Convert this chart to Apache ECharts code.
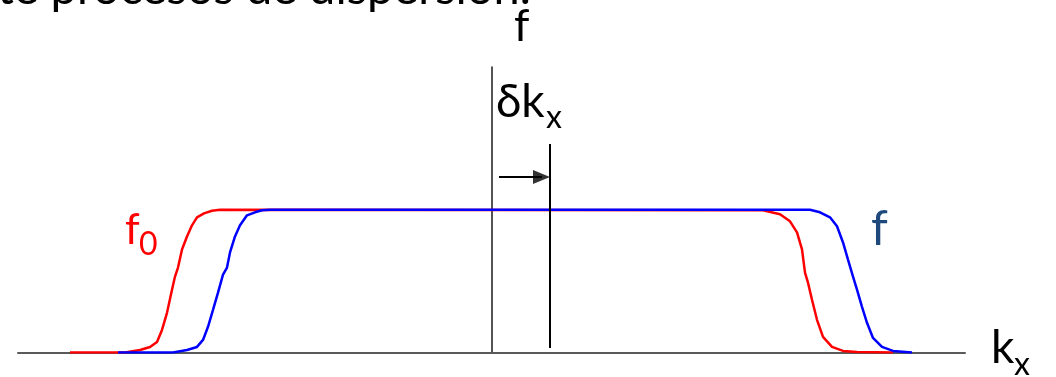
<!DOCTYPE html>
<html>
<head>
<meta charset="utf-8">
<script src="https://cdn.jsdelivr.net/npm/echarts@6/dist/echarts.min.js"></script>
<style>
html,body{margin:0;padding:0;background:#fff;}
#chart{width:1056px;height:377px;}
</style>
</head>
<body>
<div id="chart"></div>
<script>
// Red curve f0 (k, f)
const kRed = [-4.22,-3.67,-3.52,-3.42,-3.35,-3.30,-3.25,-3.20,-3.17,-3.14,-3.10,-3.05,-3.00,-2.95,-2.88,-2.80,-2.72,
              2.71,2.88,2.98,3.05,3.10,3.13,3.16,3.20,3.25,3.31,3.40,3.51,3.65,4.01];
const fRed = [0,0,0.018,0.039,0.074,0.158,0.278,0.440,0.532,0.595,0.722,0.813,0.891,0.947,0.975,0.993,1.0,
              0.996,0.968,0.919,0.842,0.722,0.560,0.489,0.370,0.229,0.109,0.039,0.011,0.004,0];
// Blue curve f (shifted distribution)
const kBlue = [-3.74,-3.19,-3.05,-2.95,-2.89,-2.84,-2.79,-2.74,-2.69,-2.65,-2.62,-2.57,-2.52,-2.45,-2.37,-2.30,-2.22,
               3.18,3.28,3.38,3.45,3.51,3.56,3.61,3.65,3.70,3.75,3.81,3.90,4.01,4.20];
const fBlue = [0,0,0.018,0.039,0.088,0.180,0.299,0.419,0.546,0.595,0.701,0.813,0.891,0.961,0.982,0.996,1.0,
               1.0,0.982,0.947,0.884,0.771,0.651,0.532,0.440,0.320,0.208,0.102,0.039,0.011,0];
// delta k marker line and arrow
const deltaK = 0.58;
const deltaLineF = [0.032, 1.461];
const arrowK = [0.07, 0.50];
const arrowF = 1.229;
const arrowHeadK = 0.495;
// axis ranges
const kMin = -4.74, kMax = 4.73, fMin = 0, fMax = 2;

const zip = (a, b) => a.map((v, i) => [v, b[i]]);

const chart = echarts.init(document.getElementById('chart'), null, {renderer: 'canvas'});
const FONT = "Lato, 'Open Sans', 'DejaVu Sans', sans-serif";
chart.setOption({
  animation: false,
  backgroundColor: '#ffffff',
  grid: {left: 18, right: 91, top: 67, bottom: 24.5, containLabel: false},
  xAxis: {
    type: 'value', min: kMin, max: kMax,
    axisLine: {show: true, onZero: true, lineStyle: {color: '#5a5a5a', width: 2}},
    axisTick: {show: false}, axisLabel: {show: false}, splitLine: {show: false}
  },
  yAxis: {
    type: 'value', min: fMin, max: fMax,
    axisLine: {show: true, onZero: true, lineStyle: {color: '#1a1a1a', width: 1.5}},
    axisTick: {show: false}, axisLabel: {show: false}, splitLine: {show: false}
  },
  series: [
    {type: 'line', name: 'f0', data: zip(kRed, fRed), showSymbol: false, smooth: false,
     lineStyle: {color: '#ff0000', width: 2.5}, z: 3},
    {type: 'line', name: 'f', data: zip(kBlue, fBlue), showSymbol: false, smooth: false,
     lineStyle: {color: '#0000ff', width: 2.5}, z: 4},
    {type: 'line', name: 'dk', data: [[deltaK, deltaLineF[0]], [deltaK, deltaLineF[1]]], showSymbol: false,
     lineStyle: {color: '#000', width: 2}, z: 5},
    {type: 'line', name: 'arrow', data: [[arrowK[0], arrowF], [arrowK[1], arrowF]], showSymbol: false,
     lineStyle: {color: '#000', width: 2}, z: 5},
    {type: 'scatter', name: 'arrowhead', data: [[arrowHeadK, arrowF]], symbol: 'triangle',
     symbolSize: [14, 17], symbolRotate: -90, itemStyle: {color: '#000'}, z: 6}
  ],
  graphic: [
    {type: 'text', x: -3, y: -11, style: {text: 'te procesos de dispersión.', font: '47px ' + FONT, fill: '#000', align: 'left', verticalAlign: 'middle'}},
    {type: 'text', x: 514, y: 27, style: {text: 'f', font: '44px ' + FONT, fill: '#000', align: 'left', verticalAlign: 'middle'}},
    {type: 'text', x: 496, y: 102, style: {text: 'δk', font: '46px ' + FONT, fill: '#000', align: 'left', verticalAlign: 'middle'}},
    {type: 'text', x: 546, y: 118, style: {text: 'x', font: '32px ' + FONT, fill: '#000', align: 'left', verticalAlign: 'middle'}},
    {type: 'text', x: 125, y: 230, style: {text: 'f', font: '42px ' + FONT, fill: '#ff0000', align: 'left', verticalAlign: 'middle'}},
    {type: 'text', x: 139, y: 245, style: {text: '0', font: '32px ' + FONT, fill: '#ff0000', align: 'left', verticalAlign: 'middle'}},
    {type: 'text', x: 871, y: 230, style: {text: 'f', font: '48px ' + FONT, fill: '#1f497d', align: 'left', verticalAlign: 'middle'}},
    {type: 'text', x: 991, y: 348, style: {text: 'k', font: '46px ' + FONT, fill: '#000', align: 'left', verticalAlign: 'middle'}},
    {type: 'text', x: 1014, y: 365, style: {text: 'x', font: '32px ' + FONT, fill: '#000', align: 'left', verticalAlign: 'middle'}}
  ]
});
</script>
</body>
</html>
